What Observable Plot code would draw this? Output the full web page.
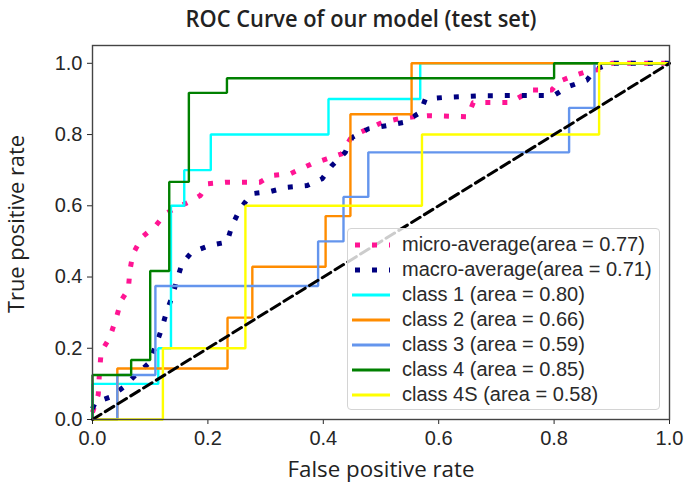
<!DOCTYPE html>
<html><head><meta charset="utf-8">
<script src="https://cdn.jsdelivr.net/npm/d3@7"></script>
<script src="https://cdn.jsdelivr.net/npm/@observablehq/plot@0.6"></script>
<style>
body{margin:0;background:#fff;}
#wrap{position:relative;width:685px;height:491px;overflow:hidden;background:#fff;}
.lab{position:absolute;white-space:nowrap;font-family:"Open Sans","Noto Sans",sans-serif;color:#222;line-height:1;}
#legend{position:absolute;left:347px;top:228px;width:313px;height:182px;box-sizing:border-box;border:1px solid #d4d4d4;border-radius:4px;background:rgba(255,255,255,0.8);font-family:"Liberation Sans",Arial,sans-serif;font-size:20px;color:#2a2a2a;}
.row{position:absolute;left:4px;height:25px;display:flex;align-items:center;}
.row svg{width:38px;height:10px;margin-right:12px;}
</style></head><body><div id="wrap"></div>
<script>
// ---- data ----
const xTicks = [0, 0.2, 0.4, 0.6, 0.8, 1.0];
const yTicks = [0, 0.2, 0.4, 0.6, 0.8, 1.0];
const seriesNames = ["micro-average", "macro-average", "class 1", "class 2", "class 3", "class 4", "class 4S"];
const aucValues = [0.77, 0.71, 0.80, 0.66, 0.59, 0.85, 0.58];
const legendLabels = [
  "micro-average(area = 0.77)", "macro-average(area = 0.71)",
  "class 1 (area = 0.80)", "class 2 (area = 0.66)", "class 3 (area = 0.59)",
  "class 4 (area = 0.85)", "class 4S (area = 0.58)"
];
const microFpr = [0, 0.01, 0.012, 0.015, 0.03, 0.042, 0.05, 0.062, 0.065, 0.07, 0.086, 0.11, 0.126, 0.143, 0.166, 0.187, 0.2, 0.23, 0.29, 0.31, 0.343, 0.38, 0.406, 0.432, 0.447, 0.464, 0.502, 0.53, 0.556, 0.585, 0.65, 0.66, 0.724, 0.762, 0.796, 0.808, 0.834, 0.86, 0.886, 0.9, 1.0];
const microTpr = [0.02, 0.07, 0.13, 0.19, 0.23, 0.29, 0.335, 0.365, 0.42, 0.465, 0.512, 0.545, 0.578, 0.592, 0.61, 0.629, 0.662, 0.666, 0.666, 0.685, 0.69, 0.718, 0.732, 0.746, 0.788, 0.806, 0.834, 0.844, 0.85, 0.853, 0.85, 0.89, 0.89, 0.925, 0.925, 0.949, 0.965, 0.979, 0.984, 1.0, 1.0];
const macroFpr = [0, 0.005, 0.031, 0.054, 0.074, 0.097, 0.109, 0.12, 0.129, 0.138, 0.146, 0.155, 0.172, 0.204, 0.233, 0.242, 0.256, 0.276, 0.308, 0.337, 0.372, 0.398, 0.415, 0.438, 0.45, 0.478, 0.51, 0.539, 0.568, 0.577, 0.608, 0.675, 0.8, 0.825, 0.857, 0.872, 0.9, 1.0];
const macroTpr = [0.03, 0.049, 0.063, 0.091, 0.124, 0.157, 0.205, 0.255, 0.306, 0.344, 0.39, 0.437, 0.47, 0.489, 0.498, 0.545, 0.592, 0.634, 0.64, 0.652, 0.657, 0.676, 0.713, 0.75, 0.792, 0.816, 0.825, 0.834, 0.862, 0.9, 0.904, 0.909, 0.91, 0.935, 0.953, 0.984, 1.0, 1.0];
const class1Fpr = [0, 0, 0.114, 0.114, 0.136, 0.136, 0.159, 0.159, 0.205, 0.205, 0.409, 0.409, 0.568, 0.568, 1.0];
const class1Tpr = [0, 0.1, 0.1, 0.2, 0.2, 0.6, 0.6, 0.7, 0.7, 0.8, 0.8, 0.9, 0.9, 1.0, 1.0];
const class2Fpr = [0, 0.043, 0.043, 0.234, 0.234, 0.277, 0.277, 0.404, 0.404, 0.447, 0.447, 0.553, 0.553, 1.0];
const class2Tpr = [0, 0, 0.143, 0.143, 0.286, 0.286, 0.429, 0.429, 0.571, 0.571, 0.857, 0.857, 1.0, 1.0];
const class3Fpr = [0, 0.043, 0.043, 0.109, 0.109, 0.391, 0.391, 0.435, 0.435, 0.478, 0.478, 0.826, 0.826, 0.87, 0.87, 1.0];
const class3Tpr = [0, 0, 0.125, 0.125, 0.375, 0.375, 0.5, 0.5, 0.625, 0.625, 0.75, 0.75, 0.875, 0.875, 1.0, 1.0];
const class4Fpr = [0, 0, 0.067, 0.067, 0.1, 0.1, 0.133, 0.133, 0.167, 0.167, 0.233, 0.233, 0.8, 0.8, 1.0];
const class4Tpr = [0, 0.125, 0.125, 0.167, 0.167, 0.417, 0.417, 0.667, 0.667, 0.917, 0.917, 0.958, 0.958, 1.0, 1.0];
const class4SFpr = [0, 0.122, 0.122, 0.265, 0.265, 0.571, 0.571, 0.878, 0.878, 1.0];
const class4STpr = [0, 0, 0.2, 0.2, 0.6, 0.6, 0.8, 0.8, 1.0, 1.0];
const chanceFpr = [0, 1];
const chanceTpr = [0, 1];

// ---- styles ----
const seriesColors = ["#ff1493", "#000080", "#00ffff", "#ff8c00", "#6495ed", "#008000", "#ffff00"];
const seriesDash = [true, true, false, false, false, false, false];

const fprs = [microFpr, macroFpr, class1Fpr, class2Fpr, class3Fpr, class4Fpr, class4SFpr];
const tprs = [microTpr, macroTpr, class1Tpr, class2Tpr, class3Tpr, class4Tpr, class4STpr];
const toRows = (f, t) => f.map((v, i) => ({fpr: v, tpr: t[i]}));

const marks = [];
seriesNames.forEach((name, k) => {
  marks.push(Plot.line(toRows(fprs[k], tprs[k]), {
    x: "fpr", y: "tpr", stroke: seriesColors[k],
    strokeWidth: seriesDash[k] ? 5 : 2.4,
    strokeDasharray: seriesDash[k] ? "5,12" : null,
    strokeLinecap: "butt", strokeLinejoin: seriesDash[k] ? "round" : "miter"
  }));
});
marks.push(Plot.line(toRows(chanceFpr, chanceTpr), {x: "fpr", y: "tpr", stroke: "black", strokeWidth: 3, strokeDasharray: "10,5"}));
marks.push(Plot.frame({stroke: "#444", strokeWidth: 1.4}));

const chart = Plot.plot({
  width: 685, height: 491,
  marginLeft: 92, marginRight: 16, marginTop: 45, marginBottom: 72,
  x: {domain: [0, 1], ticks: xTicks, tickFormat: d3.format(".1f"), tickSize: 5, tickPadding: 6, label: null},
  y: {domain: [0, 1.05], ticks: yTicks, tickFormat: d3.format(".1f"), tickSize: 5, tickPadding: 5, label: null},
  style: {fontFamily: "'Liberation Sans', Arial, sans-serif", fontSize: "20px", color: "#262626", background: "white", overflow: "visible"},
  marks
});
const wrap = document.getElementById("wrap");
wrap.appendChild(chart);

// ---- text overlays ----
function addLabel(text, cx, cy, size, targetW, rotate, weight) {
  const s = document.createElement("span");
  s.className = "lab";
  s.textContent = text;
  s.style.fontSize = size + "px";
  s.style.fontWeight = weight;
  s.style.left = cx + "px";
  s.style.top = cy + "px";
  wrap.appendChild(s);
  const w = s.getBoundingClientRect().width;
  const k = targetW / w;
  s.style.transform = "translate(-50%,-50%)" + (rotate ? " rotate(-90deg)" : "") + " scaleX(" + k.toFixed(3) + ")";
}
addLabel("ROC Curve of our model (test set)", 361, 18, 24, 351, false, 600);
addLabel("False positive rate", 381, 468, 22, 187, false, 500);
addLabel("True positive rate", 15, 224, 22, 178, true, 500);

// ---- legend ----
const legend = document.createElement("div");
legend.id = "legend";
legendLabels.forEach((lab, k) => {
  const r = document.createElement("div");
  r.className = "row";
  r.style.top = (3 + 25 * k) + "px";
  const dash = seriesDash[k];
  r.innerHTML = `<svg viewBox="0 0 38 10"><line x1="${dash ? 3 : 0}" x2="38" y1="5" y2="5" stroke="${seriesColors[k]}" stroke-width="${dash ? 5 : 3}" ${dash ? 'stroke-dasharray="5,12"' : ''}/></svg><span>${lab}</span>`;
  legend.appendChild(r);
});
wrap.appendChild(legend);
</script></body></html>
